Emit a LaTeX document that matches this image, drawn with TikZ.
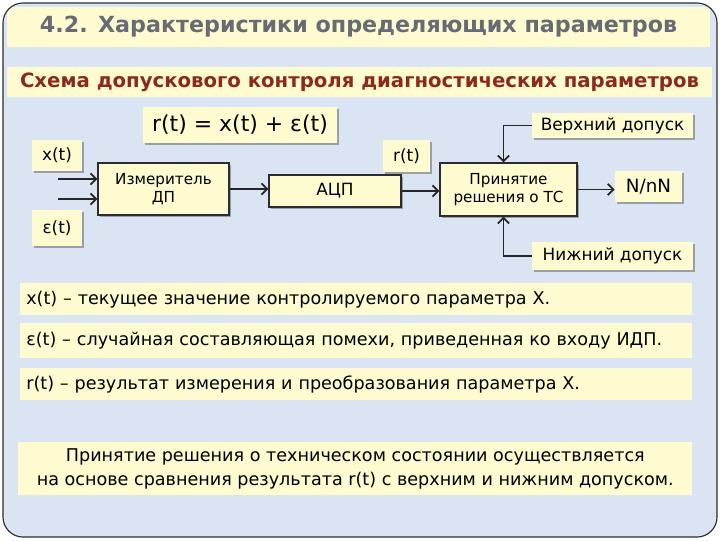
\documentclass[tikz,border=0pt]{standalone}
\usepackage{fontspec}
\setmainfont{DejaVu Sans}
\usetikzlibrary{shadows,arrows.meta}
\definecolor{fondbleu}{HTML}{DAE4F2}
\definecolor{jaune}{HTML}{FDFBCF}
\definecolor{grisTitre}{HTML}{676B75}
\definecolor{rougeSous}{HTML}{8A2A1C}
\definecolor{cadre}{HTML}{2B2B33}
\begin{document}
\begin{tikzpicture}[x=0.025cm,y=-0.025cm]
% Styles
\tikzstyle{fleche}=[-{Straight Barb[length=4pt,width=8pt]},line width=1.3pt,draw=black!85]
\tikzstyle{ombre}=[drop shadow={shadow xshift=1.5pt,shadow yshift=-1.5pt,opacity=0.3,fill=black}]
\tikzstyle{etiquette}=[fill=jaune,ombre,inner sep=0pt,align=center,font=\fontsize{12}{14}\selectfont]
\tikzstyle{bloc}=[etiquette,draw=cadre,line width=0.9pt,font=\fontsize{10.8}{13}\selectfont]
\tikzstyle{bande}=[fill=jaune,inner sep=0pt,anchor=north west,font=\fontsize{12.5}{17}\selectfont]
% Dimensions
\def\Px{0.025cm}
% Fond
\useasboundingbox (0,0) rectangle (720,540);
\fill[fondbleu,rounded corners=0.5cm] (3,3) rectangle (717,537);
% Titres
\node[fill=jaune,minimum width=703*\Px,minimum height=40*\Px,text=grisTitre,
  font=\bfseries\fontsize{15.8}{18}\selectfont] (Titre) at (358.5,27)
  {4.2. Характеристики определяющих параметров};
\node[fill=jaune,minimum width=705*\Px,minimum height=30*\Px,text=rougeSous,
  font=\bfseries\fontsize{14}{16}\selectfont] (SousTitre) at (359.5,82)
  {Схема допускового контроля диагностических параметров};
% Noeuds
\node[etiquette,minimum width=194*\Px,minimum height=36*\Px,font=\fontsize{15.6}{18}\selectfont]
  (Formule) at (240,125) {r(t) = x(t) + ε(t)};
\node[etiquette,minimum width=50*\Px,minimum height=31*\Px] (X) at (57,155.5) {x(t)};
\node[etiquette,minimum width=50*\Px,minimum height=36*\Px] (Eps) at (57,228) {ε(t)};
\node[bloc,minimum width=131*\Px,minimum height=52*\Px] (Mesure) at (163.5,189) {Измеритель\\ДП};
\node[bloc,minimum width=132*\Px,minimum height=32*\Px,font=\fontsize{12}{14}\selectfont] (ACP) at (335,191) {АЦП};
\node[etiquette,minimum width=47*\Px,minimum height=32*\Px] (R) at (406.5,156) {r(t)};
\node[bloc,minimum width=137*\Px,minimum height=53*\Px] (Decision) at (508.5,189.5) {Принятие\\решения о ТС};
\node[etiquette,minimum width=67*\Px,minimum height=31*\Px,font=\fontsize{13}{15}\selectfont] (Sortie) at (648.5,186.5) {N/nN};
\node[etiquette,minimum width=161*\Px,minimum height=25*\Px] (Haut) at (612.5,125.5) {Верхний допуск};
\node[etiquette,minimum width=161*\Px,minimum height=28*\Px] (Bas) at (612.5,256) {Нижний допуск};
\coordinate (entreeX) at (58,179);
\coordinate (entreeEps) at (58,199);
% Legende
\node[bande,minimum width=672*\Px,minimum height=32*\Px,text width=660*\Px,inner xsep=6*\Px] (LigneX) at (20,283)
  {x(t) – текущее значение контролируемого параметра X.};
\node[bande,minimum width=672*\Px,minimum height=35*\Px,text width=660*\Px,inner xsep=6*\Px] (LigneEps) at (20,323)
  {ε(t) – случайная составляющая помехи, приведенная ко входу ИДП.};
\node[bande,minimum width=672*\Px,minimum height=32*\Px,text width=660*\Px,inner xsep=6*\Px] (LigneR) at (20,368)
  {r(t) – результат измерения и преобразования параметра X.};
\node[bande,minimum width=674*\Px,minimum height=53*\Px,align=center] (Conclusion) at (18,442)
  {Принятие решения о техническом состоянии осуществляется\\
   на основе сравнения результата r(t) с верхним и нижним допуском.};
% Arcs
\draw[fleche] (entreeX)--(entreeX -| Mesure.west);
\draw[fleche] (entreeEps)--(entreeEps -| Mesure.west);
\draw[fleche] (Mesure.east)--(Mesure.east -| ACP.west);
\draw[fleche] (ACP.east)--(ACP.east -| Decision.west);
\draw[fleche] (Decision.east)--(Decision.east -| Sortie.west);
\draw[fleche] (Haut.west) -| ([xshift=-5*\Px]Decision.north);
\draw[fleche] (Bas.west) -| ([xshift=-5*\Px]Decision.south);
% Cadre
\draw[cadre,line width=0.8pt,rounded corners=0.5cm] (3,3) rectangle (717,537);
\end{tikzpicture}
\end{document}
